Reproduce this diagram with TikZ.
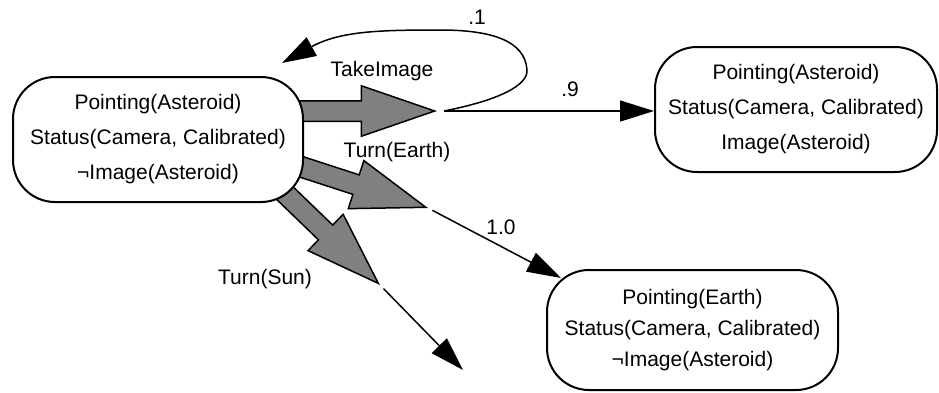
\documentclass[tikz,border=0pt]{standalone}
\usepackage{fontspec}
\setmainfont{Liberation Sans}
\usetikzlibrary{shapes,arrows,arrows.meta,positioning}
\tikzstyle{state} = [rectangle, draw, fill=white, line width=2pt, rounded corners=42pt, align=center, inner sep=0pt, font=\fontsize{21}{35}\selectfont]
\tikzstyle{action} = [single arrow, draw, fill=gray, line width=1.5pt, minimum height=135pt, inner xsep=0pt, inner ysep=9.5pt, single arrow head extend=15pt, single arrow tip angle=38]
\tikzstyle{line} = [draw, line width=1.5pt, -{Triangle[length=34pt,width=21pt]}]
\tikzstyle{lbl} = [font=\fontsize{21}{25}\selectfont, inner sep=0pt]

\begin{document}
\begin{tikzpicture}[x=1pt, y=-1pt]
    \useasboundingbox (0,0) rectangle (939,392);
    % Actions (drawn first, the states cover their tails)
    \node [action, anchor=tip] (takeimage) at (437,111) {};
    \node [action, anchor=tip, rotate=-18] (turnearth) at (428,208) {};
    \node [action, anchor=tip, rotate=-44] (turnsun) at (380,285) {};
    % Place nodes
    \node [state, minimum width=290pt, minimum height=125pt] (start) at (158,139.5) {Pointing(Asteroid)\\Status(Camera, Calibrated)\\¬Image(Asteroid)};
    \node [state, minimum width=282pt, minimum height=125pt] (imaged) at (796,109.5) {Pointing(Asteroid)\\Status(Camera, Calibrated)\\Image(Asteroid)};
    \node [state, minimum width=291pt, minimum height=120pt, font=\fontsize{21}{31}\selectfont] (turned) at (692.5,330) {Pointing(Earth)\\Status(Camera, Calibrated)\\¬Image(Asteroid)};
    \coordinate (fork) at ([xshift=7pt]takeimage.tip);
    \coordinate (loopend) at (282,63);
    \coordinate (sunend) at (463,370);
    % Draw edges
    \path [line] (fork) -- (fork -| imaged.west);
    \path [line] (fork) .. controls (500,100) and (528,85) .. (527,70) .. controls (525,40) and (490,30) .. (440,30) .. controls (380,30) and (340,31) .. (loopend);
    \path [line, shorten <=5pt] (turnearth.tip) -- ([shift={(15,9)}]turned.north west);
    \path [line, shorten <=5pt] (turnsun.tip) -- (sunend);
    % Labels
    \node [lbl] (takelabel) at (382,71.5) {TakeImage};
    \node [lbl] (earthlabel) at (397,152) {Turn(Earth)};
    \node [lbl] (sunlabel) at (265,279) {Turn(Sun)};
    \node [lbl] (stay) at (477,17.5) {.1};
    \node [lbl] (succeed) at (570,89) {.9};
    \node [lbl] (certain) at (501,227) {1.0};
\end{tikzpicture}
\end{document}
